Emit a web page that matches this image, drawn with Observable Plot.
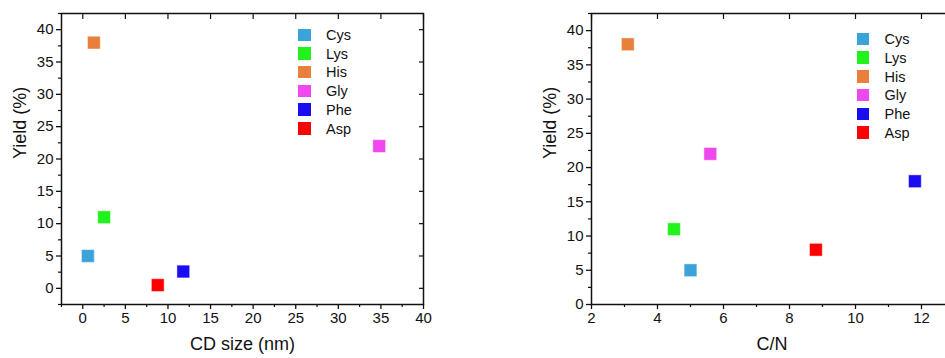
<!DOCTYPE html>
<html>
<head>
<meta charset="utf-8">
<script src="https://cdn.jsdelivr.net/npm/d3@7"></script>
<script src="https://cdn.jsdelivr.net/npm/@observablehq/plot@0.6"></script>
<style>
  html, body { margin: 0; padding: 0; background: #fff; overflow: hidden; }
  #wrap { position: relative; width: 945px; height: 358px; overflow: hidden; font-family: "Liberation Sans", Arial, sans-serif; }
  .panel { position: absolute; top: 0; }
  .panel svg { max-width: none !important; }
  .legend { position: absolute; font-size: 14.5px; color: #111; }
  .legend .row { position: absolute; left: 0; height: 18px; white-space: nowrap; }
  .legend .sw { position: absolute; left: 0; top: 2.5px; width: 12.5px; height: 12.5px; }
  .legend .lab { position: absolute; top: 0; line-height: 18px; }
</style>
</head>
<body>
<div id="wrap"></div>
<script>
// ---- data ----
const categories = ["Cys", "Lys", "His", "Gly", "Phe", "Asp"];
const colors = ["#3aa3d8", "#22f21b", "#e87f3a", "#ee48ee", "#1a0df2", "#fe0000"];
const cdSize = [0.6, 2.5, 1.3, 34.8, 11.8, 8.8];
const yieldBySize = [5, 11, 38, 22, 2.6, 0.5];
const cnRatio = [5.0, 4.5, 3.1, 5.6, 11.8, 8.8];
const yieldByCN = [5, 11, 38, 22, 18, 8];

const leftXTicks = [0, 5, 10, 15, 20, 25, 30, 35, 40];
const leftXMinor = [-2.5, 2.5, 7.5, 12.5, 17.5, 22.5, 27.5, 32.5, 37.5];
const leftYTicks = [0, 5, 10, 15, 20, 25, 30, 35, 40];
const leftYMinor = [-2.5, 2.5, 7.5, 12.5, 17.5, 22.5, 27.5, 32.5, 37.5, 42.5];
const rightXTicks = [2, 4, 6, 8, 10, 12];
const rightXMinor = [3, 5, 7, 9, 11];
const rightYTicks = [0, 5, 10, 15, 20, 25, 30, 35, 40];
const rightYMinor = [2.5, 7.5, 12.5, 17.5, 22.5, 27.5, 32.5, 37.5, 42.5];

const FONT = "Liberation Sans, Arial, sans-serif";
const wrap = document.getElementById("wrap");

function makePanel(opts) {
  const rows = categories.map((c, i) => ({cat: c, x: opts.xs[i], y: opts.ys[i], color: colors[i]}));
  const blank = () => "";
  const chart = Plot.plot({
    width: opts.width,
    height: 358,
    marginLeft: opts.marginLeft,
    marginRight: opts.marginRight,
    marginTop: 13,
    marginBottom: 54,
    style: {fontFamily: FONT, fontSize: "15px", color: "#111", background: "transparent", overflow: "visible", maxWidth: "none"},
    x: {domain: opts.xDomain},
    y: {domain: opts.yDomain},
    marks: [
      Plot.axisX({ticks: opts.xTicks, tickSize: 5, tickPadding: 3, strokeWidth: 1.3, fontSize: 15, label: null}),
      Plot.axisX({ticks: opts.xMinor, tickSize: 3, tickFormat: blank, strokeWidth: 1.2, label: null}),
      Plot.axisX({anchor: "top", ticks: opts.xTicks, tickSize: -5, tickFormat: blank, strokeWidth: 1.2, label: null}),
      Plot.axisY({ticks: opts.yTicks, tickSize: 5, tickPadding: 3, strokeWidth: 1.3, fontSize: 15, label: null}),
      Plot.axisY({ticks: opts.yMinor, tickSize: 3, tickFormat: blank, strokeWidth: 1.2, label: null}),
      Plot.axisY({anchor: "right", ticks: opts.yTicks, tickSize: -5, tickFormat: blank, strokeWidth: 1.2, label: null}),
      Plot.frame({stroke: "#111", strokeWidth: 1.5}),
      Plot.dot(rows, {x: "x", y: "y", symbol: "square", r: 7.2, fill: "color", stroke: "#ffffff", strokeOpacity: 0.45, strokeWidth: 1}),
      Plot.text([opts.yLabel], {frameAnchor: "left", rotate: -90, dx: opts.yLabelDx, fontSize: 18, fill: "#111"}),
      Plot.text([opts.xLabel], {frameAnchor: "bottom", dx: opts.xLabelDx || 0, dy: 45, fontSize: 18, fill: "#111"})
    ]
  });
  const holder = document.createElement("div");
  holder.className = "panel";
  holder.style.left = opts.left + "px";
  holder.style.width = opts.width + "px";
  holder.appendChild(chart);
  wrap.appendChild(holder);

  const lg = document.createElement("div");
  lg.className = "legend";
  lg.style.left = opts.legendX + "px";
  lg.style.top = opts.legendY + "px";
  categories.forEach((c, i) => {
    const r = document.createElement("div");
    r.className = "row";
    r.style.top = (i * 18.7) + "px";
    const sw = document.createElement("div");
    sw.className = "sw";
    sw.style.background = colors[i];
    const lab = document.createElement("div");
    lab.className = "lab";
    lab.style.left = "28px";
    lab.textContent = c;
    r.appendChild(sw); r.appendChild(lab);
    lg.appendChild(r);
  });
  wrap.appendChild(lg);
}

makePanel({
  left: 0, width: 470, marginLeft: 61, marginRight: 47,
  xDomain: [-2.5, 40], yDomain: [-2.5, 42.5],
  xTicks: leftXTicks, xMinor: leftXMinor, yTicks: leftYTicks, yMinor: leftYMinor,
  xs: cdSize, ys: yieldBySize,
  xLabel: "CD size (nm)", yLabel: "Yield (%)", yLabelDx: -41,
  legendX: 298, legendY: 26
});

makePanel({
  left: 470, width: 485, marginLeft: 121, marginRight: 1,
  xDomain: [2, 13], yDomain: [0, 42.5],
  xTicks: rightXTicks, xMinor: rightXMinor, yTicks: rightYTicks, yMinor: rightYMinor,
  xs: cnRatio, ys: yieldByCN,
  xLabel: "C/N", xLabelDx: -1, yLabel: "Yield (%)", yLabelDx: -41,
  legendX: 856.5, legendY: 30.3
});
</script>
</body>
</html>
